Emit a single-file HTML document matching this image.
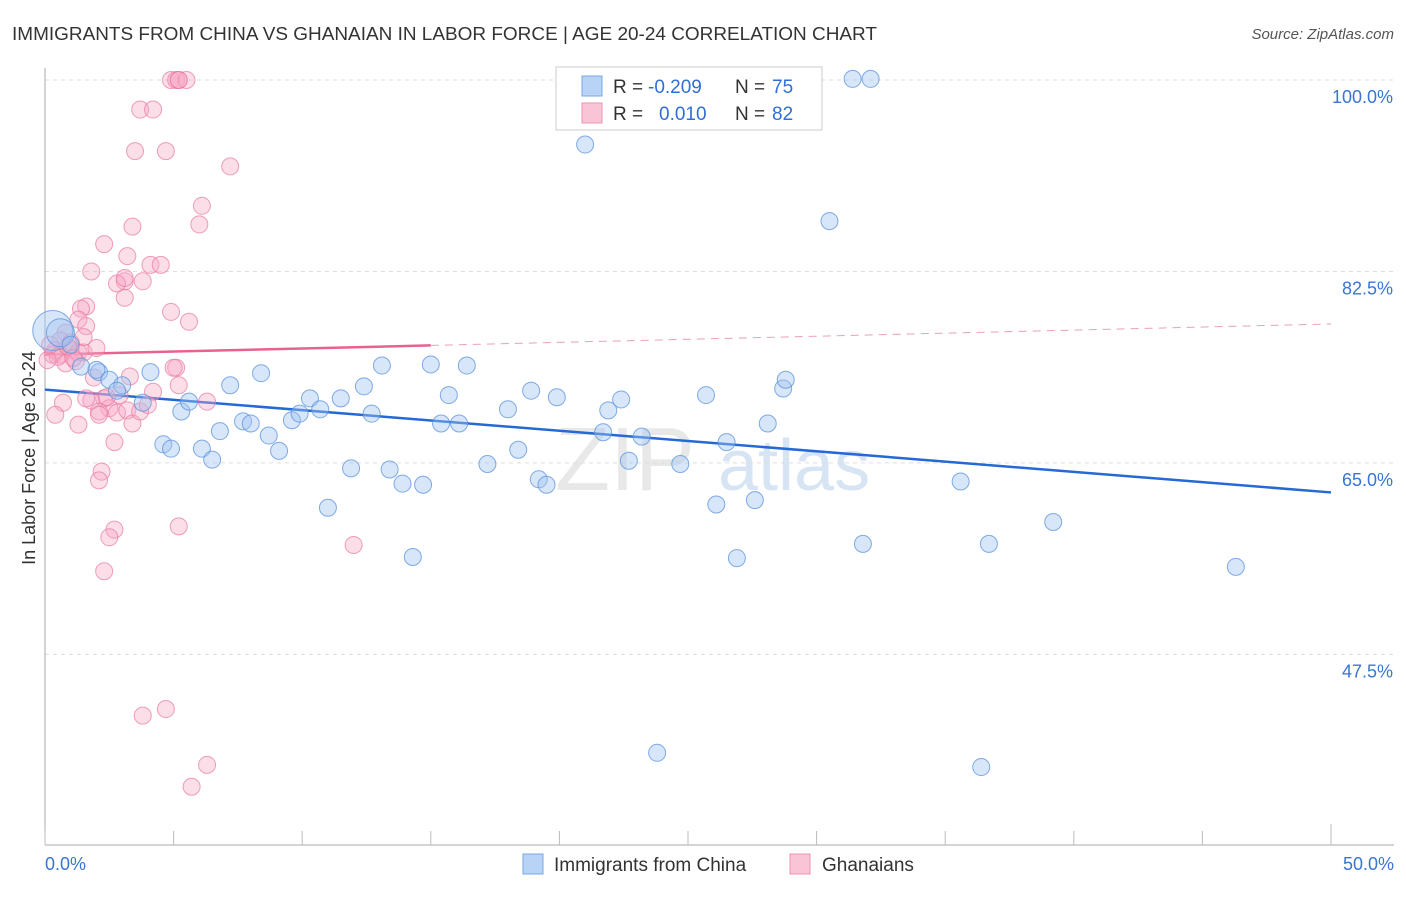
<!DOCTYPE html>
<html><head><meta charset="utf-8"><style>
body{margin:0;background:#fff;font-family:"Liberation Sans",sans-serif}
svg text{font-family:"Liberation Sans",sans-serif}
</style></head><body>
<svg id="chart" width="1406" height="892">
<text x="12" y="40" font-size="18" fill="#333" textLength="865" lengthAdjust="spacingAndGlyphs">IMMIGRANTS FROM CHINA VS GHANAIAN IN LABOR FORCE | AGE 20-24 CORRELATION CHART</text>
<text x="1394" y="39" font-size="15" fill="#555" font-style="italic" text-anchor="end">Source: ZipAtlas.com</text>
<text x="35" y="458" font-size="18" fill="#333" text-anchor="middle" transform="rotate(-90 35 458)">In Labor Force | Age 20-24</text>
<g><text x="555" y="490" font-size="90" fill="#e8e8e8" font-family="Liberation Serif">ZIP</text><text x="718" y="490" font-size="72" fill="#d6e4f4">atlas</text></g>
<g id="grid"></g><g id="axes"></g><g id="trends"></g><g id="pts"></g>
<g>
<rect x="556" y="67" width="266" height="63" fill="#fff" stroke="#ccc"/>
<rect x="582" y="76" width="20" height="20" fill="#b8d3f5" stroke="#7aa7e3"/>
<rect x="582" y="103" width="20" height="20" fill="#f9c4d5" stroke="#eb93b3"/>
<text x="613" y="93" font-size="19" fill="#333">R =</text>
<text x="648" y="93" font-size="19" fill="#2f6fd6">-0.209</text>
<text x="735" y="93" font-size="19" fill="#333">N =</text>
<text x="772" y="93" font-size="19" fill="#2f6fd6">75</text>
<text x="613" y="120" font-size="19" fill="#333">R =</text>
<text x="659" y="120" font-size="19" fill="#2f6fd6">0.010</text>
<text x="735" y="120" font-size="19" fill="#333">N =</text>
<text x="772" y="120" font-size="19" fill="#2f6fd6">82</text>
</g>
<g>
<rect x="523" y="854" width="20" height="20" fill="#b8d3f5" stroke="#7aa7e3"/>
<text x="554" y="871" font-size="19" fill="#333">Immigrants from China</text>
<rect x="790" y="854" width="20" height="20" fill="#f9c4d5" stroke="#eb93b3"/>
<text x="822" y="871" font-size="19" fill="#333">Ghanaians</text>
</g>
</svg>
<script>
const yTicks=[100,82.5,65,47.5];
const yTickLabels=["100.0%","82.5%","65.0%","47.5%"];
const xTicks=[0,5,10,15,20,25,30,35,40,45,50];
const chinaX=[0.3,0.6,1.0,2.1,1.4,2.0,2.5,3.0,4.1,4.6,4.9,5.3,5.6,6.1,6.5,6.8,7.2,7.7,8.0,8.4,8.7,9.1,9.6,9.9,10.3,10.7,11.0,11.5,11.9,12.4,12.7,13.1,13.4,13.9,14.3,14.7,15.0,15.4,15.7,16.1,16.4,17.2,18.0,18.4,18.9,19.2,19.5,19.9,21.0,21.7,21.9,22.4,22.7,23.2,23.8,24.7,25.7,26.1,26.5,26.9,27.6,28.1,28.7,28.8,30.5,31.8,31.4,32.1,35.6,36.4,36.7,39.2,46.3,3.8,2.8];
const chinaY=[77.1,76.9,75.8,73.3,73.8,73.5,72.6,72.1,73.3,66.7,66.3,69.7,70.6,66.3,65.3,67.9,72.1,68.8,68.6,73.2,67.5,66.1,68.9,69.5,70.9,69.9,60.9,70.9,64.5,72.0,69.5,73.9,64.4,63.1,56.4,63.0,74.0,68.6,71.2,68.6,73.9,64.9,69.9,66.2,71.6,63.5,63.0,71.0,94.1,67.8,69.8,70.8,65.2,67.4,38.5,64.9,71.2,61.2,66.9,56.3,61.6,68.6,71.8,72.6,87.1,57.6,100.1,100.1,63.3,37.2,57.6,59.6,55.5,70.5,71.6];
const chinaR=[20,14];
const ghanaX=[4.9,5.1,5.2,5.5,5.2,3.7,4.2,3.5,4.7,7.2,6.1,6.0,3.4,2.3,3.2,1.8,4.1,4.5,3.1,2.8,3.1,3.8,3.1,1.6,1.4,1.3,1.6,4.9,5.6,0.8,0.6,1.0,0.4,0.3,0.6,1.0,1.3,1.5,0.8,0.5,0.1,5.1,5.0,5.2,1.9,2.9,2.3,1.8,1.6,2.5,2.1,2.8,3.2,3.4,2.1,3.7,4.2,6.3,0.7,0.4,1.3,2.7,2.2,2.1,2.7,2.5,5.2,2.3,12.0,3.8,4.7,6.3,5.7,1.5,0.9,2.0,3.3,1.2,0.2,4.0,2.4,1.1];
const ghanaY=[100,100,100,100,100,97.3,97.3,93.5,93.5,92.1,88.5,86.8,86.6,85.0,83.9,82.5,83.1,83.1,81.6,81.4,81.9,81.6,80.1,79.3,79.1,78.1,77.5,78.8,77.9,76.9,76.2,76.0,75.3,74.9,74.9,75.3,75.1,75.1,74.1,74.7,74.4,73.7,73.7,72.1,72.8,71.2,70.9,70.7,70.9,70.0,69.7,69.6,69.8,68.6,69.4,69.7,71.5,70.6,70.5,69.4,68.5,66.9,64.2,63.4,58.9,58.2,59.2,55.1,57.5,41.9,42.5,37.4,35.4,76.5,75.6,75.5,72.9,74.3,75.8,70.3,71.0,74.6];
const chinaTrend=[71.7,62.3];
const ghanaTrend=[74.9,77.7];
const X0=45,X1=1331,Y100=80,PX=10.94;
const sx=v=>X0+(X1-X0)*v/50;
const sy=v=>Y100+(100-v)*PX;
const NS="http://www.w3.org/2000/svg";
function mk(t,a,p){const e=document.createElementNS(NS,t);for(const k in a)e.setAttribute(k,a[k]);p.appendChild(e);return e;}
const grid=document.getElementById('grid');
yTicks.forEach((t,i)=>{
 const l=mk('line',{x1:45,x2:1394,y1:sy(t),y2:sy(t),stroke:'#ddd','stroke-dasharray':'4,4'},grid);
 
 
 const tx=mk('text',{x:1393,y:sy(t)+23,'font-size':18,fill:'#3a74d4','text-anchor':'end'},grid);
 tx.textContent=yTickLabels[i];
 
 
});
const axes=document.getElementById('axes');
const ya=mk('line',{x1:45,x2:45,y1:68,y2:845,stroke:'#aaa'},axes);


const xa=mk('line',{x1:45,x2:1394,y1:845,y2:845,stroke:'#aaa'},axes);


xTicks.forEach(t=>{
 const k=mk('line',{x1:sx(t),x2:sx(t),y1:t==50?824:831,y2:845,stroke:'#bbb'},axes);
 
 
});
[[0,"0.0%",'start',45],[50,"50.0%",'end',1394]].forEach(d=>{
 const tx=mk('text',{x:d[3],y:870,'font-size':18,fill:'#3a74d4','text-anchor':d[2]},axes);
 tx.textContent=d[1];
 
 
});
const pts=document.getElementById('pts');
ghanaX.forEach((x,i)=>{
 const c=mk('circle',{cx:sx(x),cy:sy(ghanaY[i]),r:8.5,fill:'rgba(246,168,196,0.38)',stroke:'rgba(232,120,160,0.7)','stroke-width':1},pts);
 
 
});
chinaX.forEach((x,i)=>{
 const c=mk('circle',{cx:sx(x),cy:sy(chinaY[i]),r:chinaR[i]||8.5,fill:'rgba(160,196,240,0.42)',stroke:'rgba(90,145,220,0.75)','stroke-width':1},pts);
 
 
});
const tr=document.getElementById('trends');
const bt=mk('line',{x1:sx(0),y1:sy(chinaTrend[0]),x2:sx(50),y2:sy(chinaTrend[1]),stroke:'#2469d6','stroke-width':2.5},tr);


const gy=v=>ghanaTrend[0]+(ghanaTrend[1]-ghanaTrend[0])*v/50;
const pt1=mk('line',{x1:sx(0),y1:sy(gy(0)),x2:sx(15),y2:sy(gy(15)),stroke:'#e8628f','stroke-width':2.5},tr);


const pt2=mk('line',{x1:sx(15),y1:sy(gy(15)),x2:sx(50),y2:sy(gy(50)),stroke:'#e8a0b8','stroke-width':1,'stroke-dasharray':'8,6'},tr);


</script>
</body></html>
